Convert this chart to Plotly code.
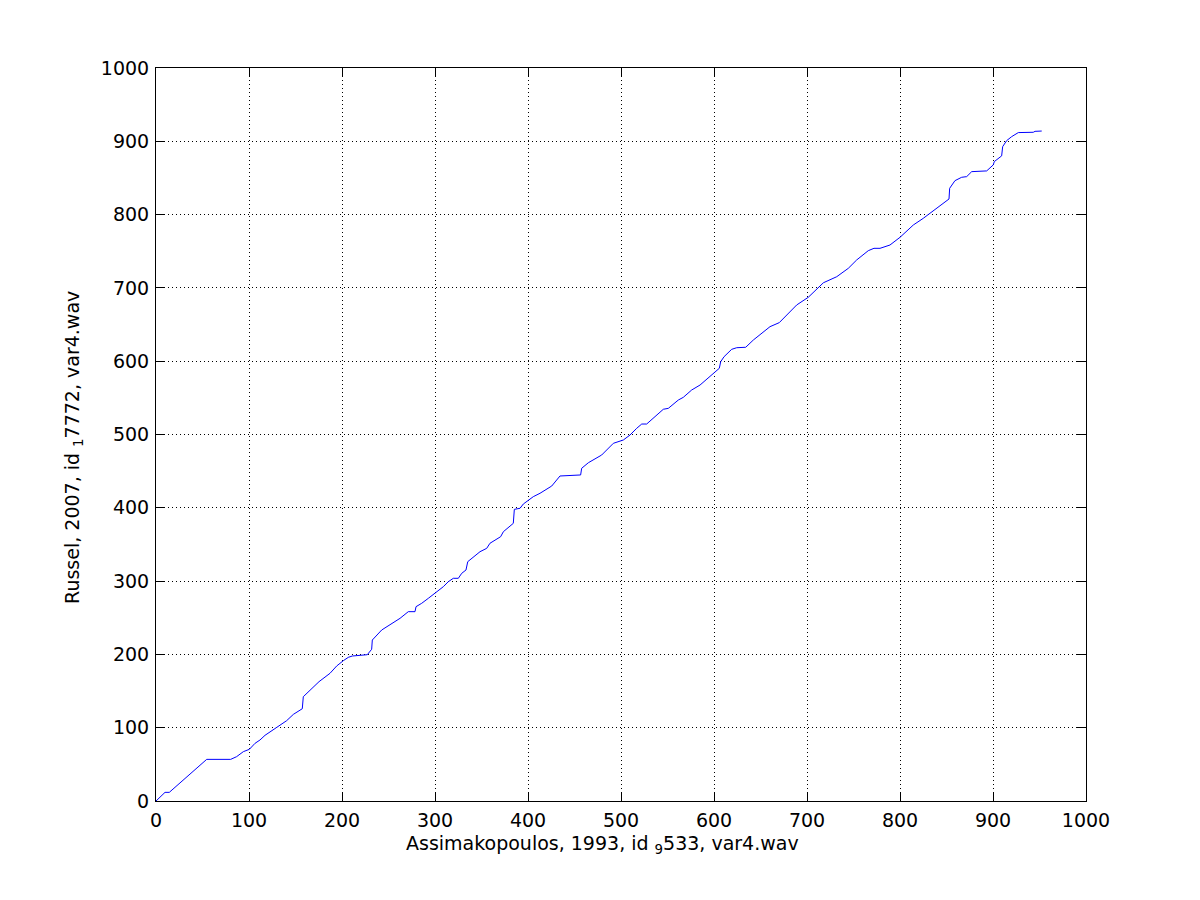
import plotly.graph_objects as go

x_vals = [0, 9.7, 14.3, 54.5, 80.3, 86.7, 93.9, 100.4, 106.5, 111.8, 117.2, 126.2, 140.5, 147.7, 157.3, 158.4,
          175.3, 187.1, 194.3, 201.4, 206.8, 211.1, 227.2, 231.9, 232.6, 242.7, 251.6, 257, 262.4, 271.3, 278.5,
          279.6, 285.7, 292.8, 300, 309, 314.3, 319.7, 325.1, 328.7, 333.3, 335.2, 348.4, 355.6, 359.1, 370.6,
          373.5, 384.2, 385.3, 391.4, 395, 405.7, 412.9, 425.5, 434.4, 456.6, 457.7, 464.9, 479.2, 486.4, 491.8,
          502.5, 509.7, 516.9, 522.3, 527.6, 534.8, 545.5, 550.9, 561.6, 567, 576, 585, 599.3, 605.7, 607.2,
          610.8, 619, 624.4, 634.1, 642.3, 660.2, 670.2, 688.9, 701.4, 717.6, 732, 744.4, 753.4, 765.9, 772,
          778.5, 789.2, 800, 814.3, 825, 832.3, 843, 852.7, 853.4, 859.1, 866.3, 871.7, 877.1, 893.2, 900.3,
          901.4, 909.3, 910.4, 914.7, 920.1, 927.2, 943.3, 945.2, 952.4]
y_vals = [0, 11.8, 11.8, 56.8, 56.8, 60.5, 67.3, 70.5, 78.7, 83.2, 89.6, 96.9, 109.6, 118.2, 125.9, 142.3,
          162.8, 174.2, 184.2, 191.4, 196, 197.8, 199.6, 207, 219.6, 233.3, 240.1, 244.6, 249.2, 258.3, 258.3,
          265.1, 269.7, 276.5, 283.4, 292.4, 299.2, 303.8, 303.8, 310.6, 315.1, 326.5, 340.1, 344.7, 351.6, 360.6,
          367.4, 378.8, 397.9, 399.3, 405.2, 415.2, 419.8, 429.7, 443.4, 444.8, 453.9, 461.5, 472, 481.2, 488,
          492.5, 499.3, 508.5, 514.3, 514.3, 522.1, 534.4, 535.7, 547, 550.7, 560.7, 567.5, 582.5, 590.3, 599.3,
          606.1, 616.2, 618.4, 619, 628.9, 647.1, 652.6, 676.7, 687.2, 707, 715.3, 726.7, 738.1, 750.8, 754,
          754, 758.5, 769, 785.8, 794.9, 801.8, 813.1, 821.3, 835.9, 846.3, 850.9, 851.8, 858.6, 859.6, 867.8,
          872.3, 880.1, 892.7, 900.9, 906.4, 911.9, 912.3, 913.6, 914]

x_ticks = [0, 100, 200, 300, 400, 500, 600, 700, 800, 900, 1000]
y_ticks = [0, 100, 200, 300, 400, 500, 600, 700, 800, 900, 1000]

x_title = "Assimakopoulos, 1993, id <sub>9</sub>533, var4.wav"
y_title = "Russel, 2007, id <sub>1</sub>7772, var4.wav"

FONT = "DejaVu Sans, Liberation Sans, Arial"

fig = go.Figure()
fig.add_trace(go.Scatter(x=x_vals, y=y_vals, mode="lines",
                         line=dict(color="#0000ff", width=1), showlegend=False))

axis_common = dict(
    showline=True, linecolor="black", linewidth=1, mirror="ticks",
    ticks="inside", ticklen=9, tickcolor="black", tickwidth=1,
    showgrid=True, gridcolor="black", gridwidth=1, griddash="1px,3px",
    zeroline=False, tickfont=dict(family=FONT, size=19, color="black"),
)

fig.update_xaxes(range=[0, 1000], tickvals=x_ticks, ticklabelstandoff=2, **axis_common)
fig.update_yaxes(range=[0, 1000], tickvals=y_ticks, ticklabelstandoff=2, **axis_common)

fig.add_annotation(text=x_title, xref="paper", yref="paper", x=0.4796, y=-0.0587,
                   xanchor="center", yanchor="middle", showarrow=False,
                   font=dict(family=FONT, size=19, color="black"))
fig.add_annotation(text=y_title, xref="paper", yref="paper", x=-0.0882, y=0.483,
                   xanchor="center", yanchor="middle", showarrow=False, textangle=-90,
                   font=dict(family=FONT, size=19, color="black"))

fig.update_layout(
    width=1200, height=900,
    margin=dict(l=148, r=122, t=60, b=107, autoexpand=False),
    paper_bgcolor="white", plot_bgcolor="white",
)

fig.write_html("out.html")
